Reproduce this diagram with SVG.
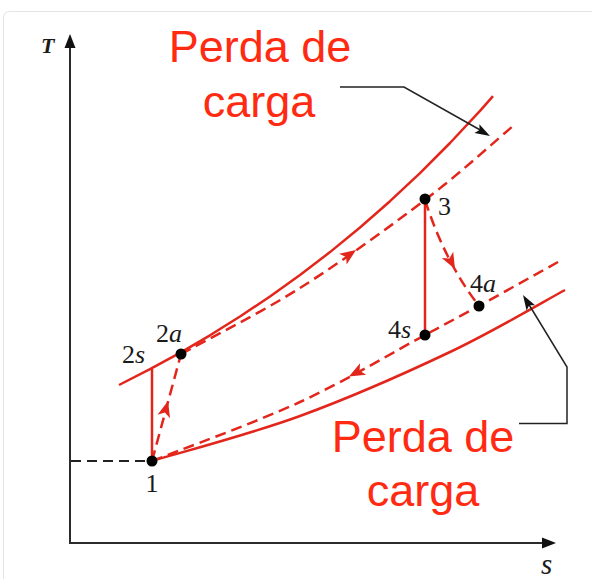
<svg xmlns="http://www.w3.org/2000/svg" width="592" height="579" viewBox="0 0 592 579">
  <style>
    .axis { stroke: #2b2b2b; stroke-width: 2; fill: none; }
    .red { stroke: #e3261c; stroke-width: 2.5; fill: none; stroke-linejoin: round; }
    .reddash { stroke: #e3261c; stroke-width: 2.5; fill: none; stroke-dasharray: 11 6; }
    .blackdash { stroke: #222; stroke-width: 2; fill: none; stroke-dasharray: 10 6; }
    .callout { stroke: #222; stroke-width: 1.5; fill: none; }
    .lbl { font-family: "Liberation Serif", "Times New Roman", serif; font-size: 26px; fill: #1a1a1a; }
    .it { font-style: italic; }
    .note { font-family: "Liberation Sans", Arial, sans-serif; font-size: 45px; fill: #ff2a12; text-anchor: middle; }
  </style>
  <defs>
    <path id="redhead" d="M0,0 L-16,-6.5 L-12,0 L-16,6.5 Z" fill="#e3261c"/>
    <path id="blackhead" d="M0,0 L-15,-5 L-12,0 L-15,5 Z" fill="#111"/>
  </defs>

  <rect x="3.5" y="11.5" width="620" height="600" rx="6" fill="#ffffff" stroke="#e4e4e4" stroke-width="1"/>

  <g id="axes">
    <line class="axis" x1="70" y1="543" x2="70" y2="44"/>
    <path d="M70,34 L64.5,48 L75.5,48 Z" fill="#111"/>
    <line class="axis" x1="69" y1="543" x2="546" y2="543"/>
    <path d="M556,543 L542,537.5 L542,548.5 Z" fill="#111"/>
    <text class="lbl it" x="41" y="53" style="font-size:22px;font-weight:bold">T</text>
    <text class="lbl it" x="541" y="574" style="font-size:29px">s</text>
  </g>

  <g id="connectors">
    <!-- high pressure solid curve -->
    <path class="red" d="M119,385 L150,369.2 L180,352.8 L210,335.3 L240,316.5 L270,296.5 L300,275 L330,252.1 L360,227.5 L390,201.2 L420,173.1 L450,143 L480,110.9 L493,96.2"/>
    <!-- high pressure dashed (actual) -->
    <path class="reddash" d="M181,354 C200.8,343 259.3,313.7 300,288 C340.7,262.3 389.5,227 425,200 C460.5,173 498.3,138.3 513,126"/>
    <use href="#redhead" transform="translate(356,250) rotate(-35)"/>
    <!-- low pressure solid -->
    <path class="red" d="M152,461 C176.7,453.5 250.3,434.2 300,416 C349.7,397.8 405.8,373 450,352 C494.2,331 545.8,300.3 565,290"/>
    <!-- low pressure dashed -->
    <path class="reddash" d="M152,461 C176.7,451.2 254.5,423 300,402 C345.5,381 395.2,351 425,335 L479,306 L558,262"/>
    <use href="#redhead" transform="translate(349,376.5) rotate(151.8)"/>
    <!-- 1 to 2s vertical -->
    <line class="red" x1="152" y1="461" x2="152" y2="369"/>
    <!-- 1 to 2a dashed -->
    <line class="reddash" x1="152" y1="461" x2="181" y2="354"/>
    <use href="#redhead" transform="translate(168,401) rotate(-74.8)"/>
    <!-- 3 to 4s vertical -->
    <line class="red" x1="425" y1="200" x2="425" y2="335"/>
    <!-- 3 to 4a dashed -->
    <path class="reddash" d="M425,200 Q445,262 479,306"/>
    <use href="#redhead" transform="translate(455,269) rotate(62)"/>
    <!-- dashed black from T axis to 1 -->
    <line class="blackdash" x1="71" y1="461" x2="152" y2="461"/>
    <!-- callouts -->
    <path class="callout" d="M340,87 L404,87 L482,131"/>
    <use href="#blackhead" transform="translate(490,136) rotate(29.4)"/>
    <path class="callout" d="M519,423.5 L567,423.5 L567,367 L528,303"/>
    <use href="#blackhead" transform="translate(523,295) rotate(-121.4)"/>
  </g>

  <g id="p1">
    <circle cx="152" cy="461" r="5.5" fill="#000"/>
    <text class="lbl" x="152" y="492" text-anchor="middle">1</text>
  </g>
  <g id="p2s">
    <text class="lbl" x="122" y="363">2<tspan class="it">s</tspan></text>
  </g>
  <g id="p2a">
    <circle cx="181" cy="354" r="5.5" fill="#000"/>
    <text class="lbl" x="156" y="342">2<tspan class="it">a</tspan></text>
  </g>
  <g id="p3">
    <circle cx="425" cy="199" r="5.5" fill="#000"/>
    <text class="lbl" x="438" y="215">3</text>
  </g>
  <g id="p4s">
    <circle cx="425" cy="335" r="5.5" fill="#000"/>
    <text class="lbl" x="388" y="338">4<tspan class="it">s</tspan></text>
  </g>
  <g id="p4a">
    <circle cx="479" cy="306" r="5.5" fill="#000"/>
    <text class="lbl" x="470" y="292">4<tspan class="it">a</tspan></text>
  </g>

  <g id="note-top">
    <text class="note" x="260" y="62">Perda de</text>
    <text class="note" x="259" y="117">carga</text>
  </g>
  <g id="note-bottom">
    <text class="note" x="423" y="452">Perda de</text>
    <text class="note" x="423" y="506">carga</text>
  </g>
</svg>
